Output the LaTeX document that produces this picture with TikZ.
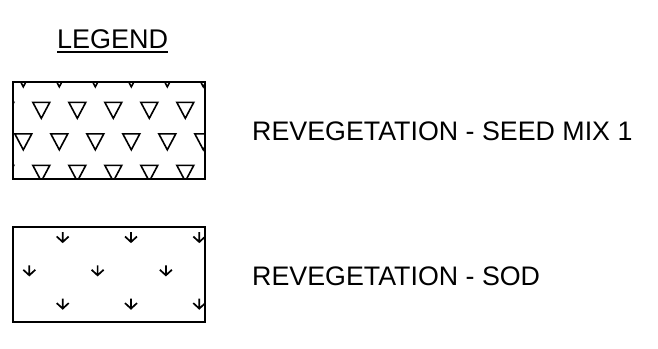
\documentclass[tikz,border=0pt]{standalone}
\usepackage{fontspec}
\setmainfont{Liberation Sans}
\begin{document}
\begin{tikzpicture}[x=1pt,y=-1pt,
    kotak/.style={line width=2pt},
    segitiga/.style={line width=1.6pt},
    panah/.style={line width=1.7pt},
    teks/.style={anchor=base west,inner sep=0pt,
      font=\fontsize{26.8}{26.8}\selectfont}]

      \useasboundingbox (0,0) rectangle (658,348);

      % Titik sudut kotak legenda
      \coordinate (A1) at (13,82);
      \coordinate (B1) at (205,179);
      \coordinate (A2) at (13,227);
      \coordinate (B2) at (205,322);

      % Judul
      \node[teks,font=\fontsize{27}{27}\selectfont] (judul) at (57,48) {LEGEND};
      \draw[line width=2pt] ([yshift=-4pt]judul.base west) -- ([yshift=-4pt]judul.base east);

      % Pola segitiga
      \begin{scope}
        \clip (A1) rectangle (B1);
        \foreach \r/\xo in {0/23.3,1/41.3,2/23.3,3/41.3} {
          \pgfmathsetmacro{\yy}{70.8+31.5*\r}
          \foreach \c in {-1,...,5}
            \draw[segitiga] ({\xo+36*\c-8.5},\yy) -- ++(17,0) -- ++(-8.5,16) -- cycle;
        }
      \end{scope}
      \draw[kotak] (A1) rectangle (B1);

      % Pola panah (sod)
      \begin{scope}
        \clip (A2) rectangle (B2);
        \foreach \r/\xo in {0/62.7,1/29.3,2/62.7} {
          \pgfmathsetmacro{\yy}{232+33.3*\r}
          \foreach \c in {-1,...,3}
            \draw[panah] ({\xo+68.3*\c},\yy) -- ++(0,10) ++(-6,-5.5) -- ++(6,5.5) -- ++(6,-5.5);
        }
      \end{scope}
      \draw[kotak] (A2) rectangle (B2);

      % Label
      \node[teks] (teksbiji) at (252,140) {REVEGETATION - SEED MIX 1};
      \node[teks] (tekssod) at (252,285) {REVEGETATION - SOD};

    \end{tikzpicture}
\end{document}
